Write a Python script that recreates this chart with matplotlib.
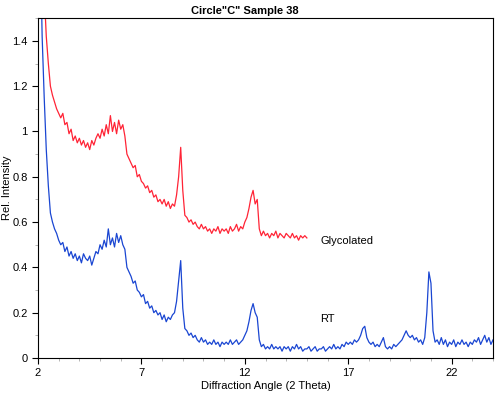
import numpy as np
import matplotlib.pyplot as plt
from matplotlib.ticker import MultipleLocator

plt.rcParams['font.family'] = ['Liberation Sans', 'DejaVu Sans']

# RT pattern, 2θ from 2.1 to 24.0 in steps of 0.1
rt_start = 2.1
rt_y = [
    1.90, 1.42, 1.15, 0.92, 0.76, 0.64, 0.60, 0.57, 0.55, 0.52,
    0.50, 0.51, 0.47, 0.49, 0.45, 0.47, 0.44, 0.46, 0.43, 0.45,
    0.42, 0.46, 0.44, 0.43, 0.45, 0.41, 0.44, 0.47, 0.46, 0.50,
    0.48, 0.52, 0.49, 0.57, 0.50, 0.53, 0.49, 0.55, 0.51, 0.54,
    0.50, 0.48, 0.40, 0.38, 0.36, 0.33, 0.34, 0.30, 0.29, 0.27,
    0.28, 0.24, 0.25, 0.22, 0.23, 0.20, 0.21, 0.19, 0.20, 0.17,
    0.19, 0.16, 0.18, 0.17, 0.19, 0.20, 0.25, 0.34, 0.43, 0.22,
    0.13, 0.12, 0.10, 0.11, 0.09, 0.10, 0.08, 0.07, 0.09, 0.07,
    0.08, 0.06, 0.07, 0.06, 0.08, 0.06, 0.07, 0.05, 0.07, 0.06,
    0.07, 0.06, 0.08, 0.06, 0.07, 0.08, 0.06, 0.07, 0.08, 0.10,
    0.12, 0.16, 0.21, 0.24, 0.20, 0.18, 0.08, 0.05, 0.06, 0.04,
    0.05, 0.04, 0.06, 0.04, 0.05, 0.04, 0.05, 0.03, 0.05, 0.04,
    0.05, 0.03, 0.05, 0.04, 0.06, 0.04, 0.05, 0.03, 0.04, 0.04,
    0.05, 0.03, 0.04, 0.05, 0.03, 0.04, 0.04, 0.05, 0.03, 0.04,
    0.05, 0.04, 0.06, 0.04, 0.05, 0.04, 0.06, 0.05, 0.07, 0.06,
    0.07, 0.06, 0.08, 0.07, 0.08, 0.10, 0.13, 0.14, 0.09, 0.07,
    0.06, 0.07, 0.05, 0.06, 0.05, 0.07, 0.09, 0.05, 0.04, 0.05,
    0.04, 0.06, 0.05, 0.06, 0.07, 0.08, 0.10, 0.12, 0.10, 0.09,
    0.10, 0.08, 0.09, 0.07, 0.08, 0.06, 0.09, 0.20, 0.38, 0.33,
    0.12, 0.07, 0.08, 0.06, 0.09, 0.06, 0.08, 0.05, 0.07, 0.06,
    0.08, 0.05, 0.07, 0.06, 0.08, 0.06, 0.07, 0.05, 0.07, 0.06,
    0.08, 0.07, 0.09, 0.06, 0.08, 0.10, 0.07, 0.09, 0.06, 0.08,
]

# Glycolated pattern, 2θ from 2.1 to 15.0 in steps of 0.1
gly_start = 2.1
gly_y = [
    2.50, 2.00, 1.62, 1.42, 1.30, 1.20, 1.16, 1.13, 1.10, 1.08,
    1.06, 1.08, 1.03, 1.04, 0.99, 1.01, 0.96, 0.98, 0.95, 0.97,
    0.94, 0.96, 0.93, 0.95, 0.92, 0.96, 0.94, 0.97, 0.99, 0.97,
    1.01, 0.98, 1.03, 0.99, 1.07, 1.00, 1.04, 0.99, 1.05, 1.01,
    1.03, 0.98, 0.90, 0.88, 0.86, 0.84, 0.85, 0.80, 0.81, 0.78,
    0.77, 0.75, 0.76, 0.73, 0.74, 0.71, 0.72, 0.69, 0.70, 0.68,
    0.70, 0.67, 0.69, 0.66, 0.68, 0.67, 0.72, 0.80, 0.93, 0.74,
    0.63, 0.62, 0.60, 0.61, 0.59, 0.60, 0.58, 0.57, 0.59, 0.57,
    0.58, 0.56, 0.57, 0.55, 0.57, 0.56, 0.58, 0.55, 0.57, 0.56,
    0.57, 0.55, 0.58, 0.56, 0.57, 0.59, 0.56, 0.58, 0.57, 0.60,
    0.62, 0.66, 0.71, 0.74, 0.68, 0.70, 0.57, 0.54, 0.56, 0.54,
    0.55, 0.53, 0.55, 0.54, 0.56, 0.53, 0.55, 0.54, 0.53, 0.55,
    0.54, 0.53, 0.55, 0.53, 0.54, 0.52, 0.54, 0.53, 0.54, 0.53,
]

rt_x = rt_start + 0.1 * np.arange(len(rt_y))
gly_x = gly_start + 0.1 * np.arange(len(gly_y))

fig = plt.figure(figsize=(5, 3.96), dpi=100)
ax = fig.add_axes([0.076, 0.096, 0.91, 0.858])

ax.plot(gly_x, gly_y, color='#ff2436', lw=0.9)
ax.plot(rt_x, rt_y, color='#1a46d2', lw=0.9)

ax.text(15.65, 0.515, 'Glycolated', fontsize=8, va='center')
ax.text(15.65, 0.17, 'RT', fontsize=8, va='center')

ax.set_xlim(2, 24)
ax.set_ylim(0, 1.5)
ax.set_xticks([2, 7, 12, 17, 22])
ax.set_yticks([0, 0.2, 0.4, 0.6, 0.8, 1, 1.2, 1.4])
ax.set_yticklabels(['0', '0.2', '0.4', '0.6', '0.8', '1', '1.2', '1.4'])
ax.xaxis.set_minor_locator(MultipleLocator(1))
ax.yaxis.set_minor_locator(MultipleLocator(0.1))
ax.tick_params(labelsize=8, length=4, width=0.8)
ax.tick_params(which='minor', length=2, width=0.5, color='#999999')

ax.set_title('Circle"C" Sample 38', fontsize=8, fontweight='bold', x=0.455, pad=3)
ax.set_xlabel('Diffraction Angle (2 Theta)', fontsize=8, labelpad=2)
ax.set_ylabel('Rel. Intensity', fontsize=8)
ax.yaxis.set_label_coords(-0.057, 0.5)

fig.savefig('out.png', dpi=100)
